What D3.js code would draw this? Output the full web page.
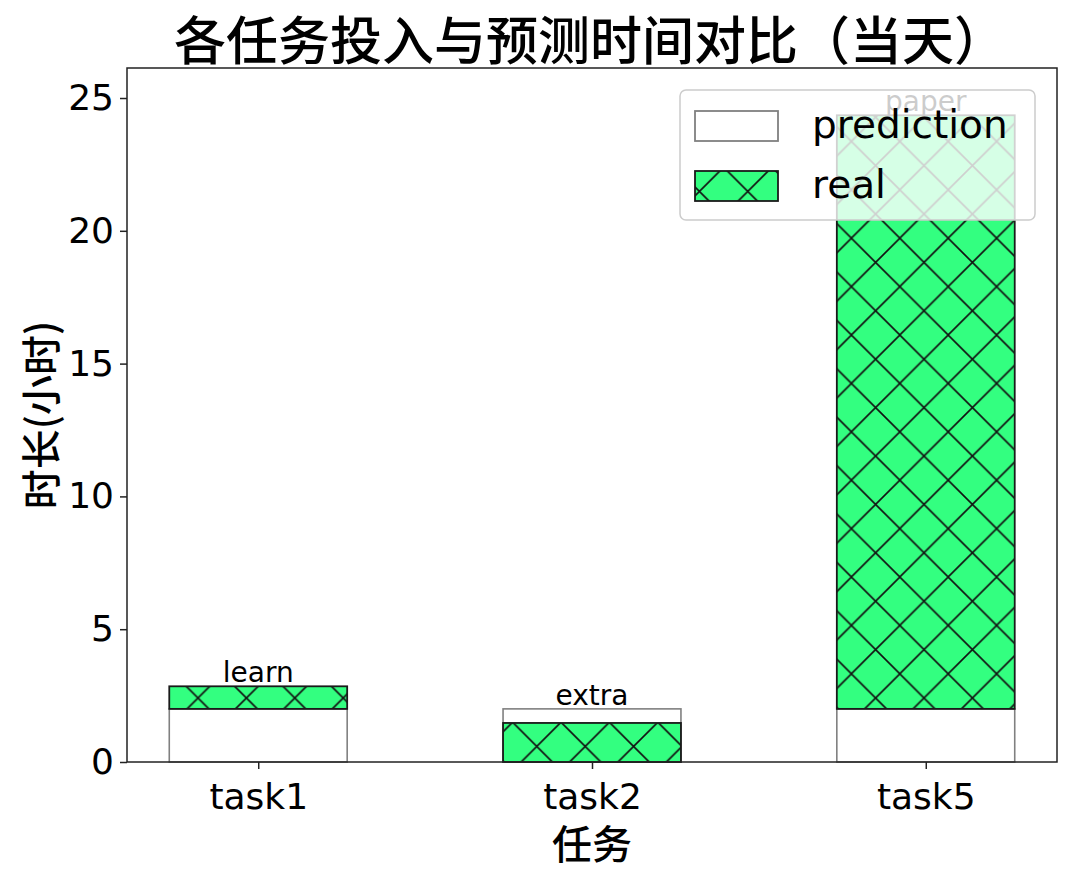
<!DOCTYPE html>
<html lang="zh">
<head>
<meta charset="utf-8">
<title>各任务投入与预测时间对比</title>
<script src="https://cdn.jsdelivr.net/npm/d3@7"></script>
<style>
body { margin: 0; background: #fff; }
text { font-family: "DejaVu Sans", "Noto Sans CJK SC", sans-serif; fill: #000; }
.cjk { font-family: "Noto Sans CJK SC", sans-serif; }
</style>
</head>
<body>
<script>
// data
var categories = ["task1", "task2", "task5"];
var taskNames = ["learn", "extra", "paper"];
var prediction = [2, 2, 2];
var real = [2.85, 1.47, 24.35];
var yTicks = [0, 5, 10, 15, 20, 25];

var W = 1071, H = 879;
// plot box (note: "top" is reserved on window, so prefix these)
var pLeft = 127, pRight = 1057, pTop = 68, pBottom = 762;
var barW = 0.533;
var pad = 0.05 * (categories.length - 1 + barW);

var svg = d3.select("body").append("svg")
  .attr("width", W).attr("height", H);

var x = d3.scaleLinear()
  .domain([-barW / 2 - pad, categories.length - 1 + barW / 2 + pad])
  .range([pLeft, pRight]);
var y = d3.scaleLinear().domain([0, 26.13]).range([pBottom, pTop]);

// hatch pattern
var P = 48.4;
var defs = svg.append("defs");
var pat = defs.append("pattern")
  .attr("id", "hatch")
  .attr("patternUnits", "userSpaceOnUse")
  .attr("x", 198 - P / 2).attr("y", 698 - P / 2)
  .attr("width", P).attr("height", P);
pat.append("rect").attr("width", P).attr("height", P).attr("fill", "#33ff80");
pat.append("path")
  .attr("d", "M0,0L" + P + "," + P + "M0," + P + "L" + P + ",0" +
    "M-1,1L1,-1M" + (P - 1) + "," + (P + 1) + "L" + (P + 1) + "," + (P - 1) +
    "M-1," + (P - 1) + "L1," + (P + 1) + "M" + (P - 1) + ",-1L" + (P + 1) + ",1")
  .attr("stroke", "#111").attr("stroke-width", 1.6).attr("fill", "none");

// prediction bars
svg.selectAll(".pred").data(prediction).enter().append("rect")
  .attr("class", "pred")
  .attr("x", function(d, i) { return x(i - barW / 2); })
  .attr("width", function() { return x(barW) - x(0); })
  .attr("y", function(d) { return y(d); })
  .attr("height", function(d) { return y(0) - y(d); })
  .attr("fill", "#fff").attr("stroke", "#808080").attr("stroke-width", 1.6);

// real bars: sit on top of prediction when over it
var realBase = real.map(function(d, i) { return d > prediction[i] ? prediction[i] : 0; });
svg.selectAll(".real").data(real).enter().append("rect")
  .attr("class", "real")
  .attr("x", function(d, i) { return x(i - barW / 2); })
  .attr("width", function() { return x(barW) - x(0); })
  .attr("y", function(d) { return y(d); })
  .attr("height", function(d, i) { return y(realBase[i]) - y(d); })
  .attr("fill", "url(#hatch)").attr("stroke", "#1a1a1a").attr("stroke-width", 1.8);

// bar labels
svg.selectAll(".lbl").data(taskNames).enter().append("text")
  .attr("x", function(d, i) { return x(i); })
  .attr("y", function(d, i) { return y(Math.max(real[i], prediction[i])) - 4; })
  .attr("text-anchor", "middle")
  .attr("font-size", 28)
  .text(function(d) { return d; });

// axes
var yAxis = svg.append("g").attr("transform", "translate(" + pLeft + ",0)")
  .call(d3.axisLeft(y).tickValues(yTicks).tickSize(7).tickPadding(6));
var xAxis = svg.append("g").attr("transform", "translate(0," + pBottom + ")")
  .call(d3.axisBottom(x).tickValues(d3.range(categories.length))
    .tickFormat(function(i) { return categories[i]; }).tickSize(7).tickPadding(8));
[xAxis, yAxis].forEach(function(g) {
  g.select(".domain").remove();
  g.selectAll("line").attr("stroke", "#222").attr("stroke-width", 1.5);
  g.selectAll("text").attr("font-size", 36)
    .attr("font-family", "DejaVu Sans, sans-serif").attr("fill", "#000");
});
xAxis.selectAll("text").attr("dy", "0.9em");

// frame
svg.append("rect")
  .attr("x", pLeft).attr("y", pTop)
  .attr("width", pRight - pLeft).attr("height", pBottom - pTop)
  .attr("fill", "none").attr("stroke", "#222").attr("stroke-width", 1.5);

// titles
svg.append("text").attr("class", "cjk")
  .attr("x", 590).attr("y", 60)
  .attr("text-anchor", "middle").attr("font-size", 52).attr("font-weight", 500)
  .text("各任务投入与预测时间对比（当天）");
svg.append("text").attr("class", "cjk")
  .attr("x", (pLeft + pRight) / 2).attr("y", 859)
  .attr("text-anchor", "middle").attr("font-size", 40).attr("font-weight", 500)
  .text("任务");
svg.append("text").attr("class", "cjk")
  .attr("transform", "translate(56," + ((pTop + pBottom) / 2) + ") rotate(-90)")
  .attr("text-anchor", "middle").attr("font-size", 40).attr("font-weight", 500)
  .text("时长(小时)");

// legend
var lg = svg.append("g").attr("transform", "translate(680,90)");
lg.append("rect")
  .attr("width", 355).attr("height", 130).attr("rx", 6)
  .attr("fill", "#fff").attr("fill-opacity", 0.8)
  .attr("stroke", "#cccccc").attr("stroke-width", 1.5);
var legendItems = [
  { name: "prediction", fill: "#fff", stroke: "#808080" },
  { name: "real", fill: "url(#hatch)", stroke: "#1a1a1a" }
];
var li = lg.selectAll(".item").data(legendItems).enter().append("g")
  .attr("transform", function(d, i) { return "translate(15," + (21 + i * 60) + ")"; });
li.append("rect")
  .attr("width", 83).attr("height", 30)
  .attr("fill", function(d) { return d.fill; })
  .attr("stroke", function(d) { return d.stroke; })
  .attr("stroke-width", 1.8);
li.append("text")
  .attr("x", 117).attr("y", 27)
  .attr("font-size", 39)
  .text(function(d) { return d.name; });
</script>
</body>
</html>
